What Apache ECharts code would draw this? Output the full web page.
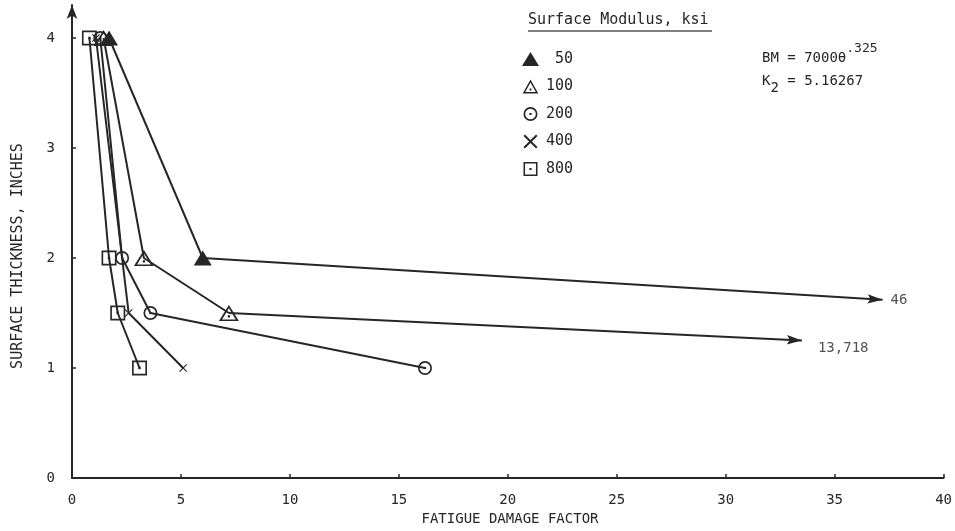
<!DOCTYPE html>
<html>
<head>
<meta charset="utf-8">
<script src="https://cdn.jsdelivr.net/npm/echarts@6/dist/echarts.min.js"></script>
<style>html,body{margin:0;padding:0;background:#fff}#c{width:955px;height:531px}</style>
</head>
<body>
<div id="c"></div>
<script>
// ---- data ----
const seriesNames = ['50', '100', '200', '400', '800'];
const s50  = [[1.7, 4], [6.0, 2]];
const s100 = [[1.45, 4], [3.3, 2], [7.2, 1.5]];
const s200 = [[1.3, 4], [2.3, 2], [3.6, 1.5], [16.2, 1.0]];
const s400 = [[1.1, 4], [2.6, 1.5], [5.1, 1.0]];
const s800 = [[0.8, 4], [1.7, 2], [2.1, 1.5], [3.1, 1.0]];
// off-scale continuations (arrows) : start point, arrow tip, off-scale value
const arrowStarts = [[6.0, 2], [7.2, 1.5]];
const arrowTips = [[37.2, 1.62], [33.5, 1.25]];
const offScaleValues = ['46', '13,718'];
const xTicks = [0, 5, 10, 15, 20, 25, 30, 35, 40];
const yTicks = [0, 1, 2, 3, 4];

// ---- styling ----
const INK = '#262626';
const FONT = '"DejaVu Sans Mono", "Liberation Mono", monospace';
const SYM_TRI_OPEN = 'path://M5,0 L10,9 L0,9 Z M5,1.9 L1.6,8.1 L8.4,8.1 Z M4.4,5.8 L5.6,5.8 L5.6,7 L4.4,7 Z';
const SYM_CIRC_OPEN = 'path://M10,5 A5,5 0 1,1 0,5 A5,5 0 1,1 10,5 Z M8.8,5 A3.8,3.8 0 1,0 1.2,5 A3.8,3.8 0 1,0 8.8,5 Z M4.2,4.2 L5.8,4.2 L5.8,5.8 L4.2,5.8 Z';
const SYM_X = 'path://M0,1 L1,0 L5,4 L9,0 L10,1 L6,5 L10,9 L9,10 L5,6 L1,10 L0,9 L4,5 Z';
const SYM_SQ_OPEN = 'path://M0,0 L10,0 L10,10 L0,10 Z M1.1,1.1 L1.1,8.9 L8.9,8.9 L8.9,1.1 Z M4.2,4.2 L5.8,4.2 L5.8,5.8 L4.2,5.8 Z';
// arrowhead whose tip sits at the centre of its bounding box
const SYM_ARROW = 'path://M5,-16 L5.01,-16 Z M5,0 L10,16 L5,13 L0,16 Z';

const symbols = ['triangle', SYM_TRI_OPEN, SYM_CIRC_OPEN, SYM_X, SYM_SQ_OPEN];
const symbolSizes = [[18, 15], [20, 18], [14, 14], [8, 8], [15, 15]];
const datas = [s50, s100, s200, s400, s800];

const chart = echarts.init(document.getElementById('c'), null, {renderer: 'canvas'});

const series = datas.map((d, i) => ({
  name: seriesNames[i],
  type: 'line',
  data: d,
  symbol: symbols[i],
  symbolSize: symbolSizes[i],
  symbolKeepAspect: true,
  showAllSymbol: true,
  z: 3 + i,
  lineStyle: {color: INK, width: 2},
  itemStyle: {color: INK, borderWidth: 0},
  emphasis: {disabled: true}
}));

// arrows for off-scale continuation
arrowStarts.forEach((st, i) => {
  series.push({
    name: 'arrow' + i,
    type: 'line',
    data: [],
    markLine: {
      silent: true,
      animation: false,
      symbol: ['none', SYM_ARROW],
      symbolSize: 30,
      symbolKeepAspect: true,
      lineStyle: {color: INK, width: 2, type: 'solid'},
      label: {show: false},
      emphasis: {disabled: true},
      data: [[{coord: st}, {coord: arrowTips[i]}]]
    }
  });
});
series.push({
  name: 'offscale',
  type: 'scatter',
  data: arrowTips.map((p, i) => ({value: p, label: {
    offset: i === 0 ? [0, 1] : [8, 8]
  }})),
  symbolSize: 0,
  silent: true,
  label: {
    show: true, position: 'right', distance: 8,
    formatter: p => offScaleValues[p.dataIndex],
    fontFamily: FONT, fontSize: 14, color: INK
  }
});

const option = {
  animation: false,
  backgroundColor: '#fff',
  grid: {left: 72, right: 9, top: 5, bottom: 53, containLabel: false},
  xAxis: {
    type: 'value', min: 0, max: 40, interval: 5,
    axisLine: {show: true, lineStyle: {color: INK, width: 2}},
    axisTick: {show: true, length: 4, inside: true, lineStyle: {color: INK, width: 1.5}},
    splitLine: {show: false},
    axisLabel: {color: INK, fontFamily: FONT, fontSize: 14, margin: 15},
  },
  yAxis: {
    type: 'value', min: 0, max: 4.3,
    axisLine: {show: true, onZero: false, lineStyle: {color: INK, width: 2},
      symbol: ['none', 'arrow'], symbolSize: [8, 14]},
    axisTick: {show: true, length: 4, inside: true, customValues: yTicks, lineStyle: {color: INK, width: 1.5}},
    splitLine: {show: false},
    axisLabel: {color: INK, fontFamily: FONT, fontSize: 14, margin: 17, customValues: yTicks},
  },
  legend: {
    orient: 'vertical', left: 522, top: 50, padding: 0,
    itemWidth: 17, itemHeight: 14, itemGap: 9.5,
    symbolKeepAspect: true,
    selectedMode: false,
    data: seriesNames.map((n, i) => ({name: n, icon: symbols[i], itemStyle: {color: INK}})),
    formatter: n => n.length < 3 ? '\u2002' + n : n,
    textStyle: {color: INK, fontFamily: FONT, fontSize: 15, padding: [0, 0, 0, 2], lineHeight: 18}
  },
  graphic: [
    {type: 'text', left: 528, top: 13, style: {text: 'Surface Modulus, ksi', font: '15px ' + FONT, fill: INK}},
    {type: 'line', shape: {x1: 528, y1: 31, x2: 712, y2: 31}, style: {stroke: '#555', lineWidth: 1.5}},
    {type: 'text', left: 762, top: 42, style: {
      rich: {
        a: {font: '14px ' + FONT, fill: INK, verticalAlign: 'bottom'},
        s: {font: '13px ' + FONT, fill: INK, padding: [0, 0, 10, 0], verticalAlign: 'bottom'}
      },
      text: '{a|BM = 7000θ}{s|.325}'
    }},
    {type: 'text', left: 762, top: 74, style: {
      rich: {
        a: {font: '14px ' + FONT, fill: INK},
        b: {font: '14px ' + FONT, fill: INK, padding: [14, 0, 0, 0]}
      },
      text: '{a|K}{b|2}{a| = 5.16267}'
    }},
    {type: 'text', x: 510, y: 519, style: {text: 'FATIGUE DAMAGE FACTOR', font: '14px ' + FONT, fill: INK, align: 'center', verticalAlign: 'middle'}},
    {type: 'text', x: 18, y: 256, rotation: Math.PI / 2, style: {text: 'SURFACE THICKNESS, INCHES', font: '15px ' + FONT, fill: INK, align: 'center', verticalAlign: 'middle'}}
  ],
  series: series
};
chart.setOption(option);
</script>
</body>
</html>
